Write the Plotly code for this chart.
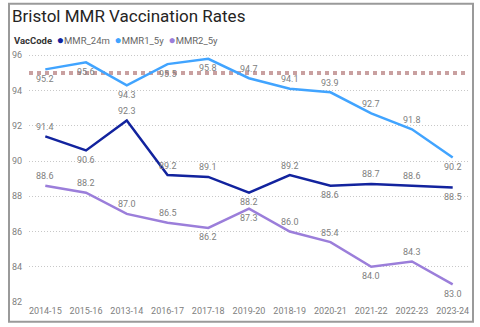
import plotly.graph_objects as go

# ---------------- data ----------------
years = ["2014-15", "2015-16", "2013-14", "2016-17", "2017-18", "2019-20",
         "2018-19", "2020-21", "2021-22", "2022-23", "2023-24"]
mmr_24m = [91.4, 90.6, 92.3, 89.2, 89.1, 88.2, 89.2, 88.6, 88.7, 88.6, 88.5]
mmr1_5y = [95.2, 95.6, 94.3, 95.5, 95.8, 94.7, 94.1, 93.9, 92.7, 91.8, 90.2]
mmr2_5y = [88.6, 88.2, 87.0, 86.5, 86.2, 87.3, 86.0, 85.4, 84.0, 84.3, 83.0]
series_names = ["MMR_24m", "MMR1_5y", "MMR2_5y"]
target = 95
y_ticks = [82, 84, 86, 88, 90, 92, 94, 96]

# label placement (above / below the point)
pos_24m = ["top", "bottom", "top", "top", "top", "bottom", "top", "bottom", "top", "top", "bottom"]
pos_1_5y = ["bottom", "bottom", "bottom", "bottom", "bottom", "top", "top", "top", "top", "top", "bottom"]
pos_2_5y = ["top", "top", "top", "top", "bottom", "bottom", "top", "top", "bottom", "top", "bottom"]

colors = ["#12239E", "#41A4FF", "#9B7EDA"]

# ---------------- layout geometry ----------------
W, H = 480, 327
ML, MR, MT, MB = 29, 11, 50, 23
PW, PH = W - ML - MR, H - MT - MB


def px_x(px):
    return (px - ML) / PW


def px_y(py):
    return (H - MB - py) / PH


FONT = "Roboto"
LABEL_COLOR = "#808080"
fig = go.Figure()

for name, vals, pos, col in zip(series_names, [mmr_24m, mmr1_5y, mmr2_5y],
                                [pos_24m, pos_1_5y, pos_2_5y], colors):
    fig.add_trace(go.Scatter(
        x=years, y=vals, name=name, mode="lines",
        line=dict(color=col, width=2.5),
        showlegend=False,
    ))
    for xv, yv, p in zip(years, vals, pos):
        fig.add_annotation(x=xv, y=yv, text=f"{yv:.1f}", showarrow=False,
                           xanchor="center", yanchor="middle",
                           yshift=9.5 if p == "top" else -9.5,
                           font=dict(family=FONT, size=9, color=LABEL_COLOR))

# target line at 95
fig.add_shape(type="line", xref="paper", yref="y", x0=0, x1=1, y0=target, y1=target,
              line=dict(color="#C9A0A0", width=4, dash="4px,4px"), layer="below")

# frame
fig.add_shape(type="rect", xref="paper", yref="paper",
              x0=px_x(9), x1=px_x(473), y0=px_y(324), y1=px_y(3.5),
              line=dict(color="#9a9a9a", width=2))

# legend as text
legend_html = "<b>VacCode</b>  " + "  ".join(
    f"<span style='color:{c};font-size:12px'>●</span><span style='color:#666'>{n}</span>"
    for n, c in zip(series_names, colors))
fig.add_annotation(xref="paper", yref="paper", x=px_x(12), y=px_y(40),
                   xanchor="left", yanchor="middle", showarrow=False,
                   text=legend_html, font=dict(family=FONT, size=9.5, color="#333"))

fig.update_layout(
    width=W, height=H,
    margin=dict(l=ML, r=MR, t=MT, b=MB),
    paper_bgcolor="white", plot_bgcolor="white",
    title=dict(text="Bristol MMR Vaccination Rates", x=12 / W, xanchor="left",
               y=1 - 16 / H, yanchor="middle", xref="container", yref="container",
               font=dict(family=FONT, size=17, color="#252423")),
    xaxis=dict(type="category", range=[-0.4, 10.4], showgrid=False, zeroline=False,
               showline=False, tickfont=dict(family=FONT, size=9, color=LABEL_COLOR),
               ticks="", ticklabelstandoff=2),
    yaxis=dict(range=[82, 96.3], tickvals=y_ticks, showgrid=True, gridcolor="#c8c8c8",
               griddash="1px,2px", gridwidth=1, zeroline=False, showline=False,
               tickfont=dict(family=FONT, size=9, color=LABEL_COLOR), ticks="",
               ticklabelstandoff=6),
    showlegend=False,
)

fig.write_html("out.html")
